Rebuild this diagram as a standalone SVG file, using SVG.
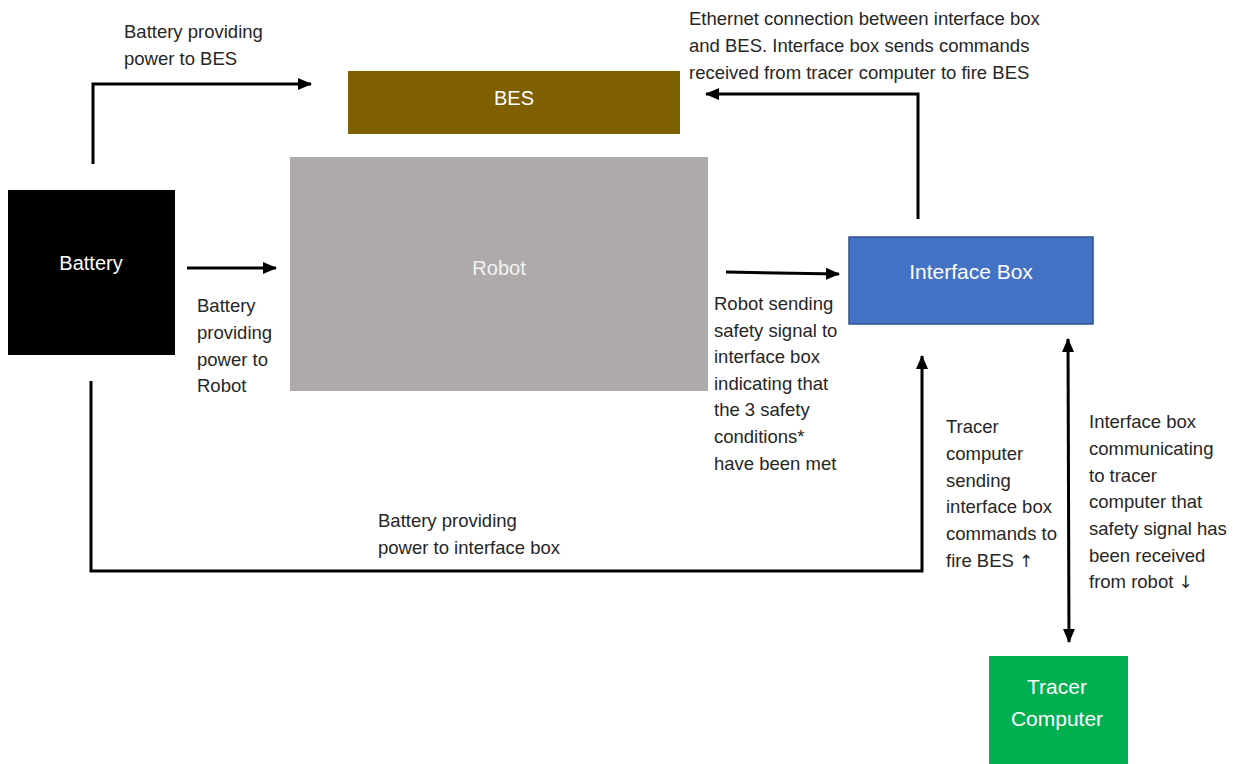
<svg xmlns="http://www.w3.org/2000/svg" width="1233" height="764" viewBox="0 0 1233 764">
<style>
.lbl{font-family:"Liberation Sans",Arial,sans-serif;font-size:18.5px;fill:#262626}
.ar{font-family:"DejaVu Sans",sans-serif;font-size:17px;fill:#262626}
.nl{font-family:"Liberation Sans",Arial,sans-serif;font-size:20px;fill:#ffffff;text-anchor:middle}
.c{fill:none;stroke:#000;stroke-width:3}
</style>
<defs>
<marker id="ah" markerUnits="userSpaceOnUse" markerWidth="14" markerHeight="12" refX="13" refY="6" orient="auto-start-reverse" viewBox="0 0 14 12">
<path d="M0,0 L14,6 L0,12 z" fill="#000"/>
</marker>
</defs>
<rect width="1233" height="764" fill="#fff"/>
<g id="bes">
<rect x="348" y="71" width="332" height="63" fill="#7F6000"/>
<text class="nl" x="514" y="105">BES</text>
</g>
<g id="robot">
<rect x="290" y="157" width="418" height="234" fill="#AEAAAA"/>
<text class="nl" x="499" y="275" style="fill:#f2f2f2">Robot</text>
</g>
<g id="battery">
<rect x="8" y="190" width="167" height="165" fill="#000"/>
<text class="nl" x="91" y="270">Battery</text>
</g>
<g id="interface-box">
<rect x="849" y="237" width="244" height="87" fill="#4472C4" stroke="#2F528F" stroke-width="1.5"/>
<text class="nl" x="971" y="279" style="font-size:21px">Interface Box</text>
</g>
<g id="tracer-computer">
<rect x="989" y="656" width="139" height="110" fill="#00B050"/>
<text class="nl" x="1057" y="694" style="font-size:21px">Tracer</text>
<text class="nl" x="1057" y="726" style="font-size:21px">Computer</text>
</g>
<g id="connectors">
<path class="c" d="M93,164 V84 H311" marker-end="url(#ah)"/>
<path class="c" d="M187,268 H276" marker-end="url(#ah)"/>
<path class="c" d="M726,272 L839,274" marker-end="url(#ah)"/>
<path class="c" d="M918,219 V94 H706" marker-end="url(#ah)"/>
<path class="c" d="M91,381 V571 H922 V356" marker-end="url(#ah)"/>
<path class="c" d="M1068,339 L1069,642" marker-start="url(#ah)" marker-end="url(#ah)"/>
</g>
<g id="labels">
<text class="lbl" x="124" y="38">Battery providing</text>
<text class="lbl" x="124" y="65">power to BES</text>
<text class="lbl" x="689" y="25">Ethernet connection between interface box</text>
<text class="lbl" x="689" y="52">and BES. Interface box sends commands</text>
<text class="lbl" x="689" y="79">received from tracer computer to fire BES</text>
<text class="lbl" x="197" y="312">Battery</text>
<text class="lbl" x="197" y="339">providing</text>
<text class="lbl" x="197" y="366">power to</text>
<text class="lbl" x="197" y="392">Robot</text>
<text class="lbl" x="714" y="310">Robot sending</text>
<text class="lbl" x="714" y="337">safety signal to</text>
<text class="lbl" x="714" y="363">interface box</text>
<text class="lbl" x="714" y="390">indicating that</text>
<text class="lbl" x="714" y="416">the 3 safety</text>
<text class="lbl" x="714" y="443">conditions*</text>
<text class="lbl" x="714" y="470">have been met</text>
<text class="lbl" x="378" y="527">Battery providing</text>
<text class="lbl" x="378" y="554">power to interface box</text>
<text class="lbl" x="946" y="433">Tracer</text>
<text class="lbl" x="946" y="460">computer</text>
<text class="lbl" x="946" y="487">sending</text>
<text class="lbl" x="946" y="513">interface box</text>
<text class="lbl" x="946" y="540">commands to</text>
<text class="lbl" x="946" y="567">fire BES <tspan class="ar">↑</tspan></text>
<text class="lbl" x="1089" y="428">Interface box</text>
<text class="lbl" x="1089" y="455">communicating</text>
<text class="lbl" x="1089" y="482">to tracer</text>
<text class="lbl" x="1089" y="508">computer that</text>
<text class="lbl" x="1089" y="535">safety signal has</text>
<text class="lbl" x="1089" y="562">been received</text>
<text class="lbl" x="1089" y="588">from robot <tspan class="ar">↓</tspan></text>
</g>
</svg>
